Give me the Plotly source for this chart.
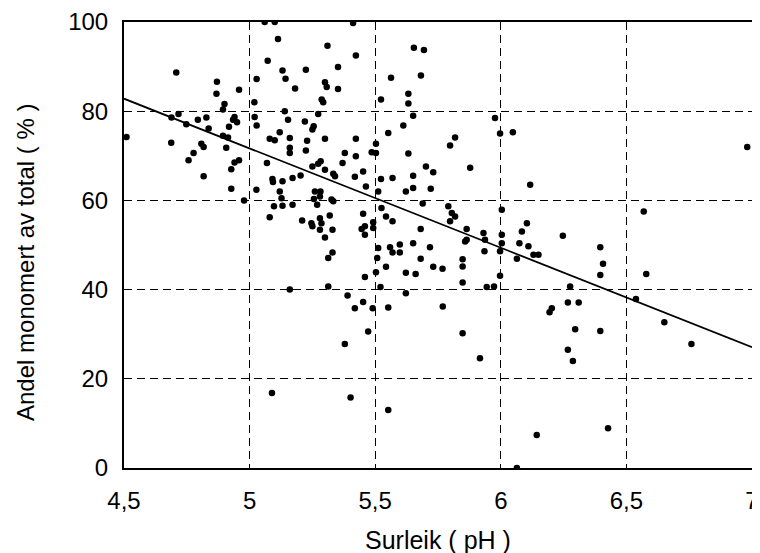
import plotly.graph_objects as go

ph = [5.06, 5.10, 5.113, 5.31, 4.708, 5.072, 5.131, 5.143, 5.224, 5.028, 4.870, 4.868, 4.958, 5.181,
      5.307, 5.30, 5.287, 5.293, 5.019, 4.90, 4.894, 4.717, 4.689, 5.14, 4.94, 4.934, 4.95, 4.794,
      4.828, 4.748, 4.837, 4.918, 5.02, 5.028, 5.153, 5.22, 5.273, 5.255, 5.25, 4.51, 4.688, 4.894,
      4.914, 4.907, 4.808, 4.817, 4.777, 4.757, 5.08, 5.10, 5.12, 5.16, 5.16, 5.16, 5.229, 5.224,
      5.30, 4.94, 4.958, 4.927, 4.817, 5.069, 5.25, 5.273, 5.283, 5.30, 5.091, 5.093, 5.131, 5.171,
      5.203, 4.927, 5.027, 4.978, 5.12, 5.26, 5.282, 5.28, 5.256, 5.269, 5.097, 5.131, 5.171, 5.127,
      5.08, 5.209, 5.246, 5.25, 5.28, 5.286, 5.28, 5.30,
      5.412, 5.423, 5.352, 5.352, 5.654, 5.694, 5.563, 5.682, 5.632, 5.632, 5.523, 5.651, 5.612,
      5.552, 5.423, 5.503, 5.486, 5.503, 5.379, 5.423, 5.37, 5.632, 5.333, 5.34, 5.452, 5.419,
      5.523, 5.569, 5.651, 5.702, 5.731, 5.463, 5.512, 5.622, 5.651, 5.721, 5.798, 5.818, 5.878,
      5.977, 5.997, 6.048, 6.117, 5.326, 5.333, 5.525, 5.452, 5.543, 5.569, 5.689, 5.791, 5.805,
      5.798, 5.818, 5.319, 5.33, 5.446, 5.459, 5.492, 5.492, 5.459, 5.681, 5.864, 5.864, 5.931,
      5.937, 6.004, 6.004, 6.004, 6.084, 6.074, 6.104, 6.11, 5.512, 5.559, 5.598, 5.651, 5.718,
      6.981, 6.569, 6.247, 6.396,
      5.16, 5.313, 5.313, 5.089,
      5.33, 5.508, 5.569, 5.598, 5.681, 5.858, 5.935, 5.997, 6.13, 6.15, 6.064, 5.848, 5.848,
      5.731, 5.768, 5.543, 5.503, 5.459, 5.622, 5.661, 5.848, 5.944, 5.973, 5.997, 5.521, 5.39,
      5.452, 5.419, 5.49, 5.552, 5.622, 5.769, 5.472, 5.848, 5.379, 5.917, 5.402, 5.552, 6.143,
      6.064,
      6.407, 6.396, 6.579, 6.276, 6.267, 6.31, 6.194, 6.203, 6.538, 6.651, 6.759, 6.296, 6.396,
      6.267, 6.287, 6.427]

andel = [100, 100, 96.2, 94.7, 88.7, 91.3, 89.1, 87.3, 89.3, 87.2, 86.6, 83.9, 84.8, 85.1,
         85.4, 86.5, 82.6, 82.0, 82.0, 81.6, 80.4, 79.4, 78.6, 80.0, 78.7, 78.1, 77.5, 78.1,
         78.6, 77.1, 76.1, 76.5, 78.7, 76.8, 78.1, 77.7, 79.4, 76.6, 75.9, 74.2, 72.9, 74.5,
         74.1, 71.8, 72.7, 72.0, 70.6, 69.0, 73.8, 73.5, 75.3, 74.0, 71.8, 70.6, 73.4, 71.2,
         73.8, 68.5, 69.0, 67.0, 65.4, 68.4, 67.6, 68.2, 68.8, 66.9, 64.8, 64.1, 64.3, 65.0,
         65.6, 62.6, 62.4, 60.0, 62.0, 62.0, 62.0, 60.9, 60.3, 59.0, 58.7, 58.8, 59.0, 60.5,
         56.2, 55.5, 54.9, 54.2, 56.0, 54.9, 53.4, 51.7,
         99.8, 92.5, 89.9, 85.0, 94.2, 93.7, 87.5, 88.0, 83.9, 81.7, 82.6, 79.0, 76.8,
         75.1, 73.8, 72.7, 70.8, 70.6, 70.6, 69.9, 68.4, 70.5, 66.0, 65.4, 66.5, 65.3,
         64.8, 65.0, 65.5, 67.6, 66.3, 63.1, 62.0, 62.0, 62.8, 62.6, 72.3, 74.1, 67.3,
         78.5, 75.0, 75.3, 63.5, 60.2, 59.8, 58.3, 57.0, 56.4, 55.3, 59.3, 58.7, 57.2,
         55.3, 56.4, 56.6, 53.4, 53.6, 54.2, 55.1, 53.8, 52.3, 53.6, 53.6, 51.2, 52.7,
         51.2, 52.3, 50.4, 57.9, 53.0, 50.4, 54.9, 49.7, 49.3, 49.5, 50.1, 50.4, 49.5,
         72.0, 57.5, 52.1, 49.5,
         40.0, 40.7, 47.1, 16.8,
         48.3, 47.1, 48.3, 48.3, 46.9, 50.8, 48.6, 48.6, 47.8, 47.8, 46.9, 46.8, 45.2,
         45.1, 44.7, 45.1, 43.9, 42.8, 43.8, 43.5, 41.6, 40.6, 40.7, 43.1, 40.6, 38.7,
         37.2, 35.8, 35.8, 36.0, 39.2, 36.2, 30.6, 30.2, 27.8, 24.6, 15.8, 13.0, 7.4,
         0.0,
         45.8, 43.3, 43.5, 40.7, 37.1, 37.1, 34.9, 35.8, 37.9, 32.7, 27.8, 31.1, 30.7,
         26.5, 24.0, 8.9]

trend_x = [4.5, 7.0]
trend_y = [82.8, 27.1]

x_ticks = [4.5, 5, 5.5, 6, 6.5, 7]
x_labels = ["4,5", "5", "5,5", "6", "6,5", "7"]
y_ticks = [0, 20, 40, 60, 80, 100]
y_labels = ["0", "20", "40", "60", "80", "100"]
x_title = "Surleik ( pH )"
y_title = "Andel monomert av total ( % )"

font = "Liberation Sans, Arial, sans-serif"

fig = go.Figure()
fig.add_trace(go.Scatter(x=ph, y=andel, mode="markers",
                         marker=dict(color="black", size=6.5, line=dict(width=0)),
                         showlegend=False, hoverinfo="x+y"))
fig.add_trace(go.Scatter(x=trend_x, y=trend_y, mode="lines",
                         line=dict(color="black", width=1.8), showlegend=False))

axis_common = dict(showline=True, mirror=True, linecolor="black", linewidth=2,
                   showgrid=True, gridcolor="black", gridwidth=1.3, griddash="8px,5px",
                   zeroline=False, ticks="", automargin=False,
                   ticklabeloverflow="allow",
                   tickfont=dict(family=font, size=24, color="black"))

fig.update_xaxes(range=[4.5, 7], tickvals=x_ticks, ticktext=x_labels,
                 ticklabelstandoff=10, **axis_common)
fig.update_yaxes(range=[0, 100], tickvals=y_ticks, ticktext=y_labels,
                 ticklabelstandoff=9, **axis_common)

fig.add_annotation(text=x_title, xref="paper", yref="paper", x=0.5, y=0,
                   xanchor="center", yanchor="middle", yshift=-72, showarrow=False,
                   font=dict(family=font, size=25, color="black"))
fig.add_annotation(text=y_title, xref="paper", yref="paper", x=0, y=0.5,
                   xanchor="center", yanchor="middle", xshift=-99, yshift=-18,
                   textangle=-90, showarrow=False,
                   font=dict(family=font, size=24, color="black"))

fig.update_layout(width=760, height=553, margin=dict(l=116, r=16, t=14, b=93),
                  paper_bgcolor="white", plot_bgcolor="white")

fig.write_html("out.html")
